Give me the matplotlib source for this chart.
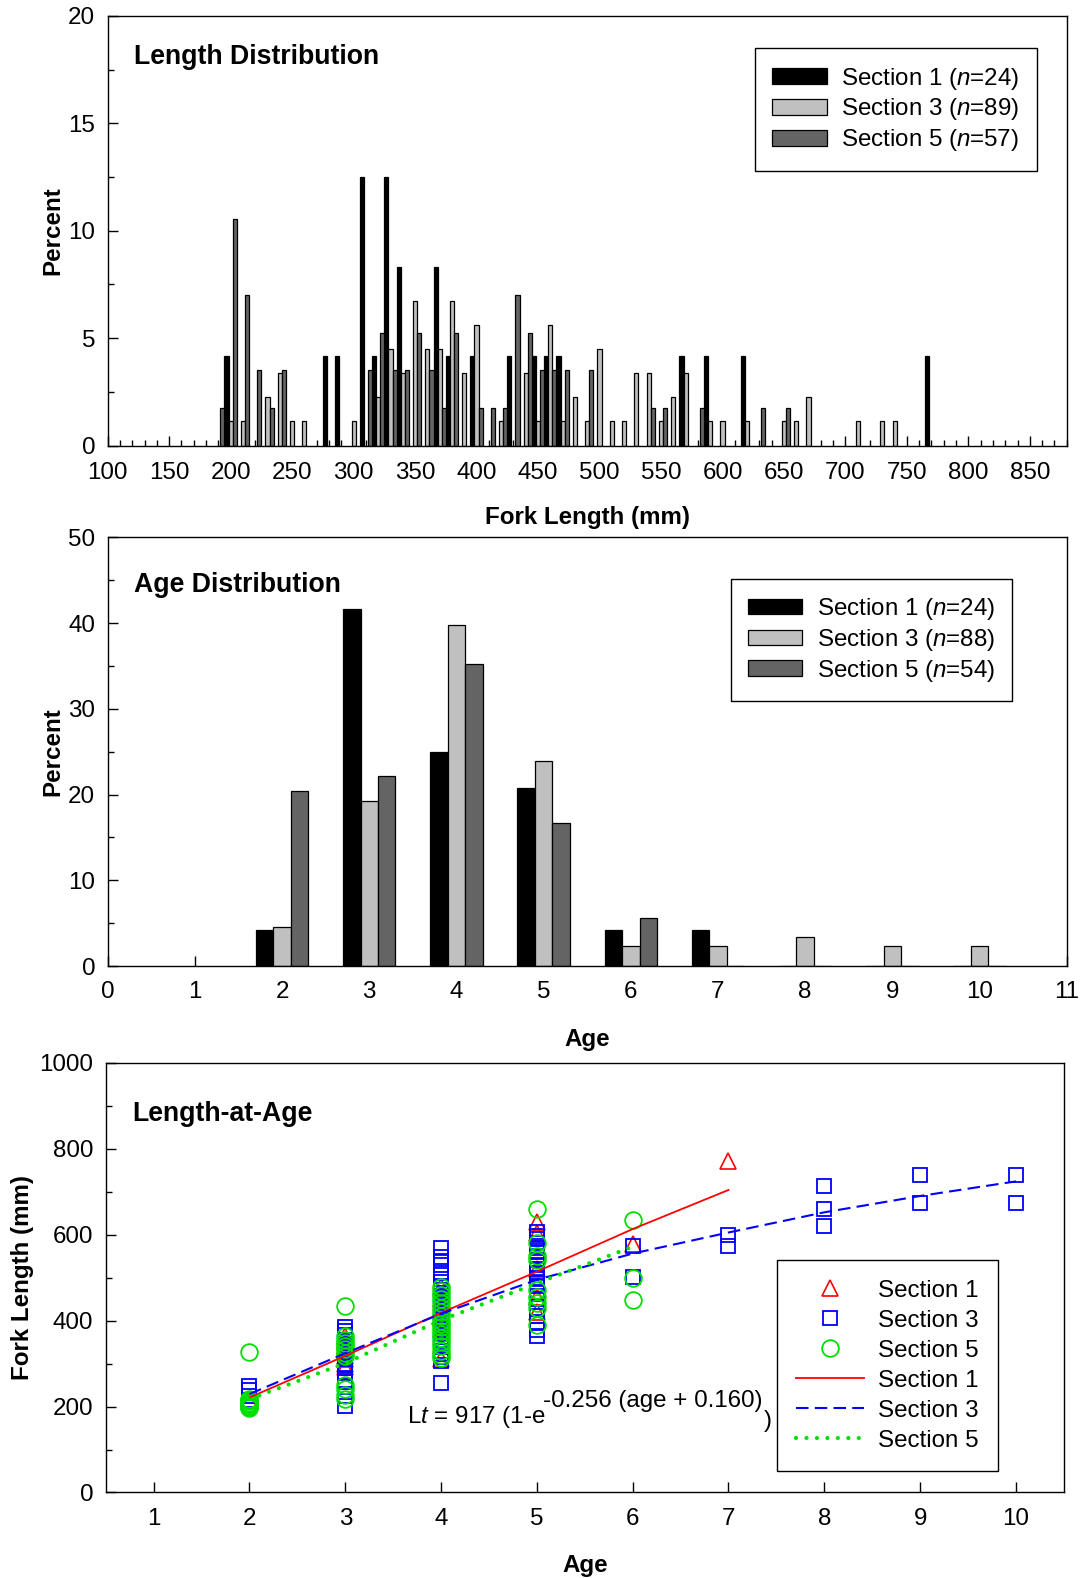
import matplotlib
matplotlib.use("Agg")
import matplotlib.pyplot as plt
from matplotlib.ticker import MultipleLocator
from matplotlib.patches import Patch
import numpy as np

plt.rcParams['font.family'] = ['Liberation Sans', 'DejaVu Sans']
plt.rcParams['mathtext.fontset'] = 'custom'
plt.rcParams['mathtext.rm'] = 'Liberation Sans'
plt.rcParams['mathtext.it'] = 'Liberation Sans:italic'
plt.rcParams['axes.linewidth'] = 1.0

# ---- length distribution (counts per 10 mm bin) ----
len_n = [24, 89, 57]
sec1_len_bins = [200, 280, 290, 310, 320, 330, 340, 370, 380, 400, 430, 450, 460, 470, 570, 590, 620, 770]
sec1_len_counts = [1, 1, 1, 3, 1, 3, 2, 2, 1, 1, 1, 1, 1, 1, 1, 1, 1, 1]
sec3_len_bins = [200, 210, 230, 240, 250, 260, 300, 320, 330, 340, 350, 360, 370, 380, 390, 400,
                 420, 440, 450, 460, 470, 480, 490, 500, 510, 520, 530, 540, 550, 560, 570, 590,
                 600, 620, 650, 660, 670, 710, 730, 740]
sec3_len_counts = [1, 1, 2, 3, 1, 1, 1, 2, 4, 3, 6, 4, 4, 6, 3, 5,
                   1, 3, 1, 5, 1, 2, 1, 4, 1, 1, 3, 3, 1, 2, 3, 1,
                   1, 1, 1, 1, 2, 1, 1, 1]
sec5_len_bins = [190, 200, 210, 220, 230, 240, 310, 320, 330, 340, 350, 360, 370, 380, 400, 410,
                 420, 430, 440, 450, 460, 470, 490, 540, 550, 580, 630, 650]
sec5_len_counts = [1, 6, 4, 2, 1, 2, 2, 3, 2, 2, 3, 2, 1, 3, 1, 1,
                   1, 4, 3, 2, 2, 2, 2, 1, 1, 1, 1, 1]

# ---- age distribution (percent) ----
ages = [2, 3, 4, 5, 6, 7, 8, 9, 10]
age_n = [24, 88, 54]
sec1_age_pct = [4.2, 41.7, 25.0, 20.8, 4.2, 4.2, 0, 0, 0]
sec3_age_pct = [4.5, 19.3, 39.8, 23.9, 2.3, 2.3, 3.4, 2.3, 2.3]
sec5_age_pct = [20.4, 22.2, 35.2, 16.7, 5.6, 0, 0, 0, 0]

# ---- length at age ----
sec1_age = [2] + [3] * 10 + [4] * 6 + [5] * 5 + [6, 7]
sec1_fl = [215,
           293, 300, 310, 318, 326, 334, 342, 350, 356, 363,
           310, 340, 380, 420, 450, 478,
           630, 605, 520, 455, 420,
           578, 772]
sec3_age = [2] * 4 + [3] * 17 + [4] * 35 + [5] * 21 + [6] * 2 + [7] * 2 + [8] * 3 + [9] * 2 + [10] * 2
sec3_fl = [248, 238, 225, 215,
           384, 375, 366, 355, 345, 338, 330, 325, 318, 310, 300, 290, 280, 262, 245, 225, 202,
           570, 548, 538, 530, 511, 490, 480, 472, 465, 458, 452, 446, 440, 434, 428, 422, 416, 410,
           404, 398, 392, 386, 380, 374, 368, 362, 356, 350, 344, 338, 330, 322, 315, 305, 255,
           607, 598, 590, 580, 570, 560, 550, 540, 530, 520, 510, 500, 490, 480, 465, 450, 430, 410,
           395, 378, 363,
           574, 502,
           599, 573,
           714, 659, 621,
           740, 673,
           739, 673]
sec5_age = [2] * 11 + [3] * 12 + [4] * 19 + [5] * 9 + [6] * 3
sec5_fl = [326, 218, 215, 212, 209, 206, 204, 202, 200, 198, 197,
           433, 365, 355, 348, 340, 333, 325, 318, 250, 240, 228, 218,
           479, 470, 460, 450, 440, 430, 420, 410, 400, 392, 384, 376, 368, 360, 350, 340, 330, 320, 312,
           659, 580, 550, 540, 471, 455, 440, 430, 390,
           634, 498, 448]

# fitted curves
fit1_age = [2, 3, 4, 5, 6, 7]
fit1_fl = [221, 318, 418, 514, 613, 704]
fit3_age = [2, 3, 4, 5, 6, 7, 8, 9, 10]
fit3_fl = [229, 324, 416, 495, 556, 605, 652, 690, 724]
fit5_age = [2, 3, 4, 5, 6]
fit5_fl = [217, 301, 401, 487, 572]

bar_colors = ['black', '#c0c0c0', '#646464']
fs = 17.4
tfs = 19.2

fig = plt.figure(figsize=(10.81, 15.78), dpi=100)
ax1 = fig.add_axes([0.0996, 0.7176, 0.8872, 0.2723])
ax2 = fig.add_axes([0.0996, 0.3878, 0.8872, 0.2716])
ax3 = fig.add_axes([0.0978, 0.0542, 0.8863, 0.2723])


def style_axis(ax):
    ax.tick_params(which='both', direction='in', labelsize=fs, top=False, right=False)
    ax.tick_params(which='major', length=7, width=1)
    ax.tick_params(which='minor', length=4, width=1)
    ax.tick_params(axis='x', pad=11.5)
    ax.tick_params(axis='y', pad=9)


def box_legend(ax, handles, labels, loc, anchor, **kw):
    leg = ax.legend(handles, labels, loc=loc, bbox_to_anchor=anchor, fontsize=fs,
                    frameon=True, fancybox=False, edgecolor='black', framealpha=1,
                    borderaxespad=0, **kw)
    leg.get_frame().set_linewidth(1.0)
    return leg


# top panel
w = 10 / 3
len_bins = [sec1_len_bins, sec3_len_bins, sec5_len_bins]
len_counts = [sec1_len_counts, sec3_len_counts, sec5_len_counts]
for i in range(3):
    pct = np.array(len_counts[i]) * 100.0 / len_n[i]
    ax1.bar(np.array(len_bins[i]) + (i - 1) * w, pct, width=w, color=bar_colors[i],
            edgecolor='black', linewidth=0.9, zorder=2)
ax1.set_xlim(100, 880)
ax1.set_ylim(0, 20)
ax1.xaxis.set_major_locator(MultipleLocator(50))
ax1.xaxis.set_minor_locator(MultipleLocator(10))
ax1.yaxis.set_major_locator(MultipleLocator(5))
ax1.yaxis.set_minor_locator(MultipleLocator(2.5))
style_axis(ax1)
ax1.set_xlabel('Fork Length (mm)', fontsize=fs, fontweight='bold', labelpad=16)
ax1.set_ylabel('Percent', fontsize=fs, fontweight='bold', labelpad=2.5)
ax1.text(0.027, 0.905, 'Length Distribution', transform=ax1.transAxes, fontsize=tfs,
         fontweight='bold', va='center')
h1 = [Patch(facecolor=bar_colors[i], edgecolor='black', linewidth=0.9) for i in range(3)]
lab1 = [r'Section %d ($\it{n}$=%d)' % (s, n) for s, n in zip([1, 3, 5], len_n)]
box_legend(ax1, h1, lab1, 'upper right', (0.9686, 0.9248),
           handlelength=2.25, handleheight=0.62, labelspacing=0.2, borderpad=0.72,
           handletextpad=0.6)

# middle panel
for i, pct in enumerate([sec1_age_pct, sec3_age_pct, sec5_age_pct]):
    ax2.bar(np.array(ages) + (i - 1) * 0.2, pct, width=0.2, color=bar_colors[i],
            edgecolor='black', linewidth=0.9, zorder=2)
ax2.set_xlim(0, 11)
ax2.set_ylim(0, 50)
ax2.xaxis.set_major_locator(MultipleLocator(1))
ax2.yaxis.set_major_locator(MultipleLocator(10))
ax2.yaxis.set_minor_locator(MultipleLocator(5))
style_axis(ax2)
ax2.tick_params(axis='x', pad=10.5)
ax2.set_xlabel('Age', fontsize=fs, fontweight='bold', labelpad=18)
ax2.set_ylabel('Percent', fontsize=fs, fontweight='bold', labelpad=2.5)
ax2.text(0.027, 0.89, 'Age Distribution', transform=ax2.transAxes, fontsize=tfs,
         fontweight='bold', va='center')
lab2 = [r'Section %d ($\it{n}$=%d)' % (s, n) for s, n in zip([1, 3, 5], age_n)]
box_legend(ax2, h1, lab2, 'upper right', (0.9434, 0.9037),
           handlelength=2.25, handleheight=0.62, labelspacing=0.2, borderpad=0.72,
           handletextpad=0.6)

# bottom panel
red, blue, green = '#ff0000', '#0000ff', '#00e000'
m1, = ax3.plot(sec1_age, sec1_fl, linestyle='none', marker='^', ms=11, mfc='none',
               mec=red, mew=1.2, zorder=3)
m3, = ax3.plot(sec3_age, sec3_fl, linestyle='none', marker='s', ms=10, mfc='none',
               mec=blue, mew=1.3, zorder=3)
m5, = ax3.plot(sec5_age, sec5_fl, linestyle='none', marker='o', ms=12, mfc='none',
               mec=green, mew=1.3, zorder=3)
l1, = ax3.plot(fit1_age, fit1_fl, color=red, lw=1.3, zorder=4)
l3, = ax3.plot(fit3_age, fit3_fl, color=blue, lw=1.5, linestyle=(0, (6, 3)), zorder=4)
l5, = ax3.plot(fit5_age, fit5_fl, color=green, lw=3, linestyle=(0, (0.01, 2.5)),
               dash_capstyle='round', zorder=4)
ax3.set_xlim(0.5, 10.5)
ax3.set_ylim(0, 1000)
ax3.set_xticks([1] + ages)
ax3.yaxis.set_major_locator(MultipleLocator(200))
ax3.yaxis.set_minor_locator(MultipleLocator(100))
style_axis(ax3)
ax3.set_xlabel('Age', fontsize=fs, fontweight='bold', labelpad=17)
ax3.set_ylabel('Fork Length (mm)', fontsize=fs, fontweight='bold', labelpad=4)
ax3.text(0.028, 0.881, 'Length-at-Age', transform=ax3.transAxes, fontsize=tfs,
         fontweight='bold', va='center')
ax3.text(3.647, 161, r'L$\it{t}$ = 917 (1-e', fontsize=fs, va='baseline', zorder=5)
ax3.text(5.068, 200, '-0.256 (age + 0.160)', fontsize=fs, va='baseline', zorder=5)
ax3.text(7.366, 153, ')', fontsize=fs, va='baseline', zorder=5)
box_legend(ax3, [m1, m3, m5, l1, l3, l5], ['Section 1', 'Section 3', 'Section 5'] * 2,
           'lower right', (0.9314, 0.050),
           handlelength=2.8, labelspacing=0.33, borderpad=0.8, handletextpad=0.6,
           numpoints=1)

fig.savefig('out.png', dpi=100)
